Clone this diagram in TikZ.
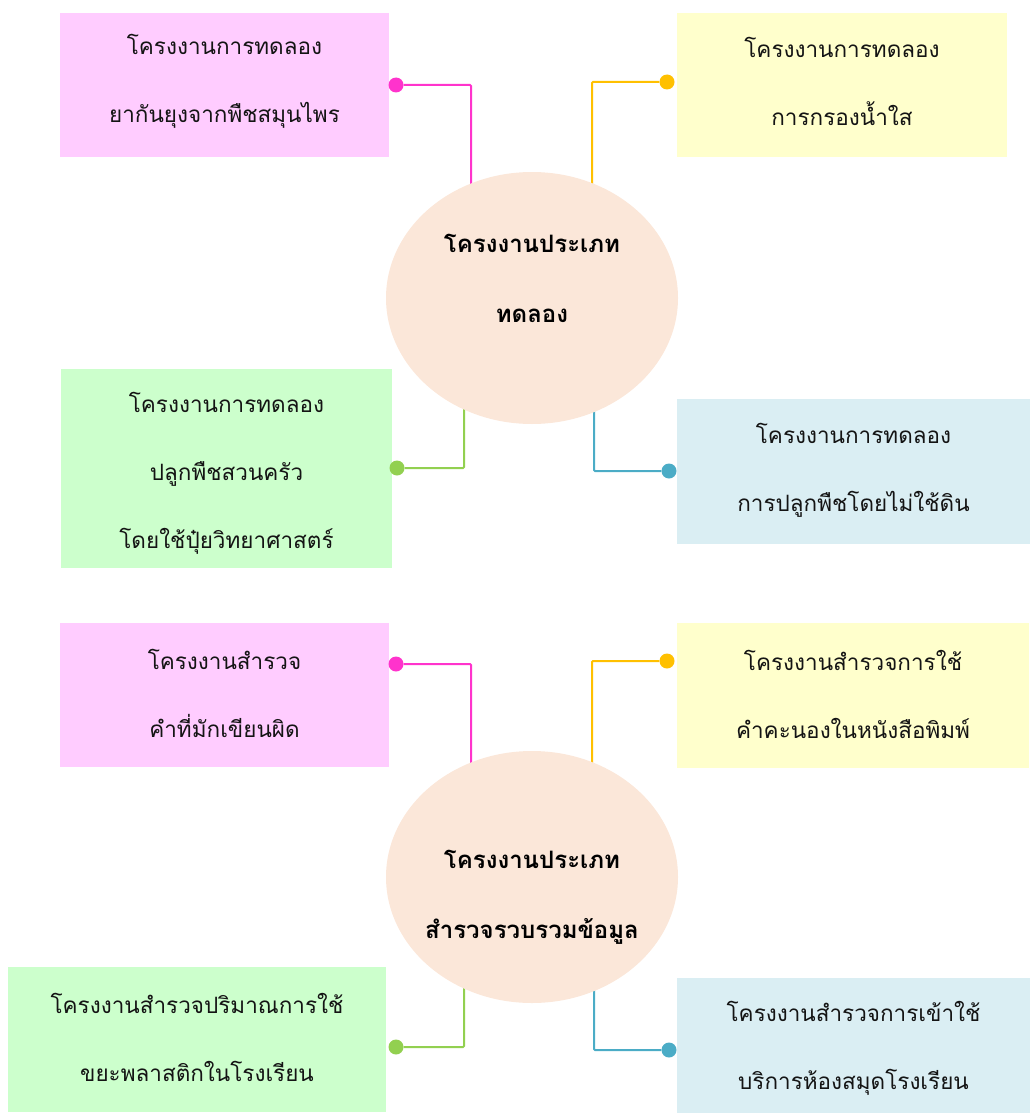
\documentclass[tikz,border=0pt]{standalone}
\usepackage{fontspec}
\newfontfamily\thaifont[Script=Thai]{Loma}
\usetikzlibrary{backgrounds,shapes.geometric}
\definecolor{pinkfill}{HTML}{FFCCFF}
\definecolor{pinkline}{HTML}{FF33CC}
\definecolor{yellowfill}{HTML}{FFFFCC}
\definecolor{yellowline}{HTML}{FFC000}
\definecolor{greenfill}{HTML}{CCFFCC}
\definecolor{greenline}{HTML}{92D050}
\definecolor{bluefill}{HTML}{DAEEF3}
\definecolor{blueline}{HTML}{4BACC6}
\definecolor{hubfill}{HTML}{FBE7D9}
\begin{document}
\begin{tikzpicture}[x=1pt,y=-1pt,
  topicbox/.style={rectangle, inner sep=0pt},
  topictext/.style={inner sep=0pt, align=center,
    font=\thaifont\fontsize{22.5}{68}\selectfont, text=black!92},
  hub/.style={ellipse, fill=hubfill, minimum width=292, minimum height=252,
    inner sep=0pt},
  hubtext/.style={inner sep=0pt, align=center,
    font=\thaifont\bfseries\fontsize{24}{70}\selectfont},
  link/.style={line width=2pt, rounded corners=1pt},
  dot/.style={circle, inner sep=0pt, minimum size=15pt}
]
\useasboundingbox (0,0) rectangle (1030,1113);

% ---------- experiment projects ----------
\node[hub] (hubA) at (532,298) {};
\node[hubtext] (hubAt) at (532,278.5) {โครงงานประเภท\\ทดลอง};

\node[topicbox, fill=pinkfill, minimum width=329, minimum height=144] (a1) at (224.5,85) {};
\node[topictext] (a1t) at (224.5,81.5) {โครงงานการทดลอง\\ยากันยุงจากพืชสมุนไพร};
\node[topicbox, fill=yellowfill, minimum width=330, minimum height=144] (a2) at (842,85) {};
\node[topictext] (a2t) at (842,81.5) {โครงงานการทดลอง\\การกรองน้ำใส};
\node[topicbox, fill=greenfill, minimum width=331, minimum height=199] (a3) at (226.5,468.5) {};
\node[topictext] (a3t) at (226.5,473) {โครงงานการทดลอง\\ปลูกพืชสวนครัว\\โดยใช้ปุ๋ยวิทยาศาสตร์};
\node[topicbox, fill=bluefill, minimum width=353, minimum height=145] (a4) at (853.5,471.5) {};
\node[topictext] (a4t) at (853.5,470) {โครงงานการทดลอง\\การปลูกพืชโดยไม่ใช้ดิน};

\node[dot, fill=pinkline] (da1) at (396,85) {};
\node[dot, fill=yellowline] (da2) at (667,82) {};
\node[dot, fill=greenline] (da3) at (397,468) {};
\node[dot, fill=blueline] (da4) at (669,471) {};

\begin{scope}[on background layer]
  \draw[link, pinkline] (da1) -| ([xshift=-61]hubA.center);
  \draw[link, yellowline] (da2) -| ([xshift=60]hubA.center);
  \draw[link, greenline] (da3) -| ([xshift=-68]hubA.center);
  \draw[link, blueline] (da4) -| ([xshift=62]hubA.center);
\end{scope}

% ---------- survey projects ----------
\node[hub] (hubB) at (532,877) {};
\node[hubtext] (hubBt) at (532,897) {โครงงานประเภท\\สำรวจรวบรวมข้อมูล};

\node[topicbox, fill=pinkfill, minimum width=329, minimum height=144] (b1) at (224.5,695) {};
\node[topictext] (b1t) at (224.5,693.5) {โครงงานสำรวจ\\คำที่มักเขียนผิด};
\node[topicbox, fill=yellowfill, minimum width=352, minimum height=145] (b2) at (853,695.5) {};
\node[topictext] (b2t) at (853,694) {โครงงานสำรวจการใช้\\คำคะนองในหนังสือพิมพ์};
\node[topicbox, fill=greenfill, minimum width=378, minimum height=145] (b3) at (197,1039.5) {};
\node[topictext] (b3t) at (197,1037) {โครงงานสำรวจปริมาณการใช้\\ขยะพลาสติกในโรงเรียน};
\node[topicbox, fill=bluefill, minimum width=353, minimum height=135] (b4) at (853.5,1045) {};
\node[topictext] (b4t) at (853.5,1048) {โครงงานสำรวจการเข้าใช้\\บริการห้องสมุดโรงเรียน};

\node[dot, fill=pinkline] (db1) at (396,664) {};
\node[dot, fill=yellowline] (db2) at (667,661) {};
\node[dot, fill=greenline] (db3) at (396,1047) {};
\node[dot, fill=blueline] (db4) at (669,1050) {};

\begin{scope}[on background layer]
  \draw[link, pinkline] (db1) -| ([xshift=-61]hubB.center);
  \draw[link, yellowline] (db2) -| ([xshift=60]hubB.center);
  \draw[link, greenline] (db3) -| ([xshift=-68]hubB.center);
  \draw[link, blueline] (db4) -| ([xshift=62]hubB.center);
\end{scope}
\end{tikzpicture}
\end{document}
